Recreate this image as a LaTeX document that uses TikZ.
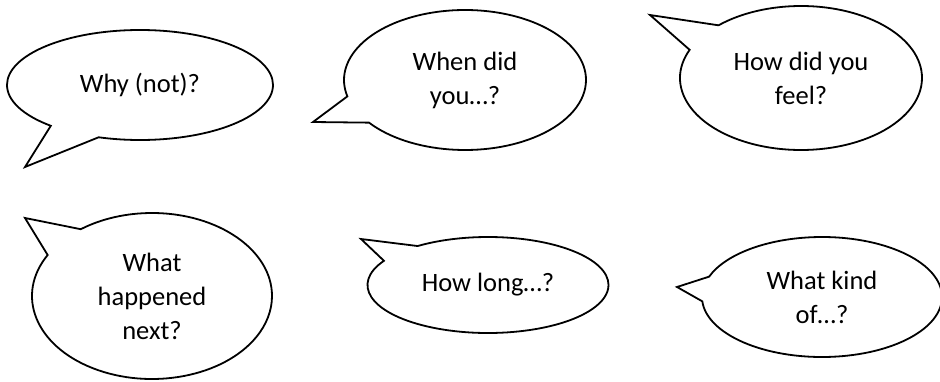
\documentclass[tikz,border=0pt]{standalone}
\usepackage{fontspec}
\setmainfont{Carlito}
\usetikzlibrary{shapes.callouts}
\newcommand{\bubblefont}{\fontsize{26.5}{34}\selectfont}

\begin{document}
\begin{tikzpicture}[x=1pt,y=-1pt,
      bubble/.style={ellipse callout,draw=black,line width=1.8pt,fill=white,inner sep=0pt,
        align=center,font=\bubblefont,callout pointer arc=24}
    ]
      \useasboundingbox (0,0) rectangle (940,381);
      % Tips of the bubbles
      \coordinate (why tip)  at (25,167);
      \coordinate (when tip) at (313,122);
      \coordinate (feel tip) at (650,15);
      \coordinate (next tip) at (25,218);
      \coordinate (long tip) at (361,239);
      \coordinate (kind tip) at (677,287);
      % Top row
      \node[bubble,minimum width=266pt,minimum height=110pt,callout absolute pointer={(why tip)}]
        (why) at (140,85) {Why (not)?};
      \node[bubble,minimum width=242pt,minimum height=140pt,callout absolute pointer={(when tip)}]
        (when) at (465,80) {When did\\you…?};
      \node[bubble,minimum width=242pt,minimum height=144pt,callout absolute pointer={(feel tip)}]
        (feel) at (801,78) {How did you\\feel?};
      % Bottom row
      \node[bubble,minimum width=240pt,minimum height=166pt,callout absolute pointer={(next tip)}]
        (next) at (152,296) {What\\happened\\next?};
      \node[bubble,minimum width=241pt,minimum height=96pt,callout absolute pointer={(long tip)}]
        (long) at (488,285) {How long…?};
      \node[bubble,minimum width=240pt,minimum height=120pt,callout absolute pointer={(kind tip)}]
        (kind) at (822,297) {What kind\\of…?};
    \end{tikzpicture}
\end{document}
